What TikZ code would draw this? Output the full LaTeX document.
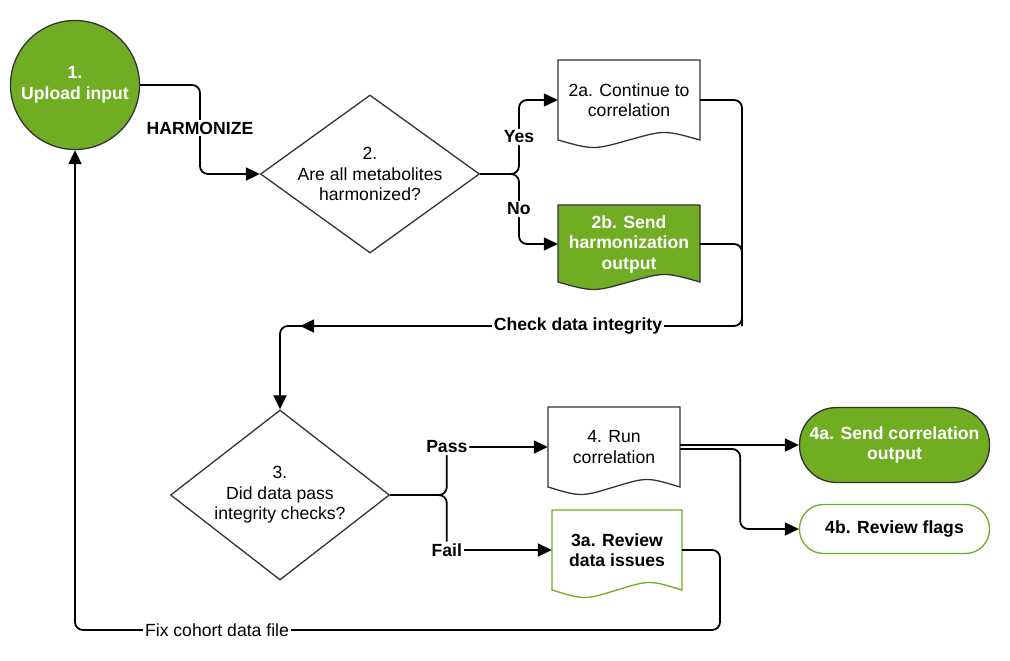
\documentclass[tikz,border=0pt]{standalone}
\usepackage{fontspec}
\setmainfont{Liberation Sans}
\usetikzlibrary{arrows.meta,shapes.geometric,calc,decorations.markings}
\definecolor{leaf}{HTML}{70AD22}
\definecolor{edge}{HTML}{333333}
\newcommand\wavedoc[6][]{%
  \path[#1] (#2,#3) -- (#4,#3) -- (#4,#5)
    .. controls ({#4-(#4-#2)*0.25},{#5-2*#6}) .. ({(#2+#4)/2},#5)
    .. controls ({#2+(#4-#2)*0.25},{#5+2*#6}) .. (#2,#5) -- cycle;}
\newcommand\fnt{\fontsize{17.6}{20.5}\selectfont}
\tikzset{
  txt/.style={font=\fnt, align=center, inner sep=0pt},
  btxt/.style={font=\fnt\bfseries, align=center, inner sep=0pt},
  shapeline/.style={draw=edge, line width=1.3pt},
  tip/.style={-{Triangle[length=14pt,width=13pt]}},
  conn/.style={draw=black, line width=1.8pt, rounded corners=8pt, tip},
  plainconn/.style={draw=black, line width=1.8pt, rounded corners=8pt},
  lbl/.style={btxt, fill=white, inner sep=2pt},
  lblr/.style={txt, fill=white, inner sep=2pt},
  docbox/.style={minimum width=#1, draw=none},
}
\begin{document}
\begin{tikzpicture}[x=1pt,y=-1pt]
\useasboundingbox (0,0) rectangle (1010,661);

% shapes
\node[circle, shapeline, fill=leaf, minimum size=129pt, btxt, text=white] (n1) at (75,85) {1.\\Upload input};
\node[diamond, shapeline, minimum width=219pt, minimum height=158pt, inner sep=0pt,
  label={[txt]center:{2.\\Are all metabolites\\harmonized?}}] (d2) at (370,174) {};
\node[diamond, shapeline, minimum width=219pt, minimum height=170pt, inner sep=0pt,
  label={[txt]center:{3.\\Did data pass\\integrity checks?}}] (d3) at (280,495) {};

\wavedoc[shapeline, fill=white]{558}{60}{700}{140}{5}
\node[docbox=142pt, minimum height=80pt, txt] (d2a) at (629,100) {2a. Continue to\\correlation};
\wavedoc[shapeline, fill=leaf]{558}{205}{700}{282}{5}
\node[docbox=142pt, minimum height=77pt, btxt, text=white] (d2b) at (629,244) {2b. Send\\harmonization\\output};
\wavedoc[shapeline, fill=white]{548}{407}{680}{487}{5}
\node[docbox=132pt, minimum height=80pt, txt] (d4) at (614,447) {4. Run\\correlation};
\wavedoc[draw=leaf, line width=1.3pt, fill=white]{552}{510}{682}{590}{5}
\node[docbox=130pt, minimum height=80pt, btxt] (d3a) at (617,550) {3a. Review\\data issues};

\node[shapeline, fill=leaf, rounded corners=37pt, minimum width=190pt, minimum height=75pt, btxt, text=white] (n4a) at (894.5,445) {4a. Send correlation\\output};
\node[draw=leaf, line width=1.3pt, fill=white, rounded corners=24pt, minimum width=190pt, minimum height=49pt, btxt] (n4b) at (894.5,529) {4b. Review flags};

% connectors
\draw[conn] (n1.east) -| ($(n1.east)!0.5!(d2.west)$) |- (d2.west);
\node[lbl] (lh) at (200,128) {HARMONIZE};

\draw[conn] (d2.east) -| ($(d2.east)!0.5!(d2a.west)$) node[lbl] (ly) {Yes} |- (d2a.west);
\draw[conn] (d2.east) -| ($(d2.east)!0.5!(d2b.west)$) node[lbl] (ln) {No} |- (d2b.west);

\coordinate (j) at (742,326);
\draw[conn, postaction={decorate}, decoration={markings, mark=at position -100pt with {\arrow{Triangle[length=14pt,width=13pt]}}}]
  (d2a.east) -| (j) -| (d3.north);
\draw[plainconn] (d2b.east) -| (j);
\node[lbl] (lc) at (578,326) {Check data integrity};

\draw[conn] (d3.east) -| ([xshift=-101pt]d4.west) node[lbl] (lp) {Pass} -- (d4.west);
\draw[conn] (d3.east) -| ([xshift=-105pt]d3a.west) node[lbl] (lf) {Fail} -- (d3a.west);

\draw[conn] ([yshift=2pt]d4.east) -- (n4a.west);
\draw[conn] ([yshift=-2pt]d4.east) -- ++(60,0) |- (n4b.west);

\coordinate (fb) at (720,630);
\draw[conn] (d3a.east) -| (fb) -| (n1.south);
\node[lblr] (lx) at (217,630) {Fix cohort data file};
\end{tikzpicture}
\end{document}
